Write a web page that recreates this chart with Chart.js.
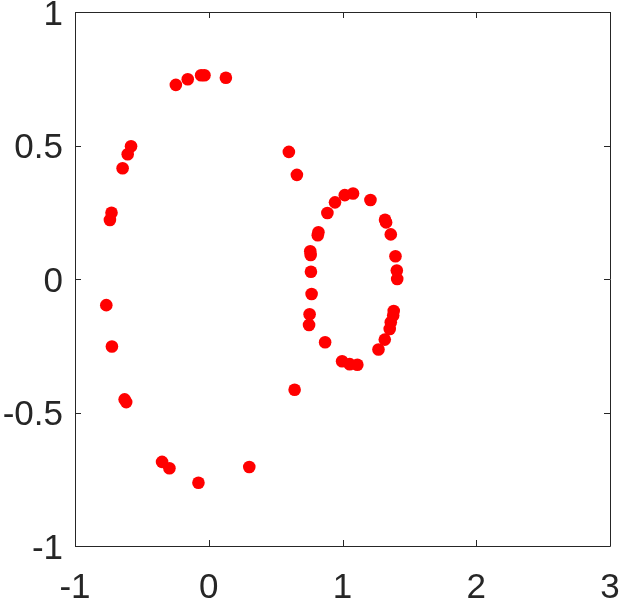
<!DOCTYPE html>
<html>
<head>
<meta charset="utf-8">
<script src="https://cdn.jsdelivr.net/npm/chart.js@4/dist/chart.umd.min.js"></script>
<style>
  html, body { margin: 0; padding: 0; background: #ffffff; }
  #wrap { width: 621px; height: 598px; position: relative; }
</style>
</head>
<body>
<div id="wrap"><canvas id="c" width="621" height="598"></canvas></div>
<script>
// Data
const xVals = [
  -0.246, -0.157, -0.057, -0.032, 0.128,
  -0.581, -0.606, -0.644, -0.727, -0.739,
  0.599, 0.659,
  -0.766, -0.724, -0.629, -0.617, -0.349, -0.294, -0.077, 0.303, 0.642,
  1.017, 1.079, 0.944, 1.209, 0.887, 1.318, 1.326, 1.361, 0.820, 0.815,
  0.759, 0.762, 0.764, 1.396, 1.406, 1.409, 0.769, 1.383, 1.379, 1.361,
  1.353, 1.316, 1.269, 0.754, 0.750, 0.870, 0.997, 1.054, 1.111
];
const yVals = [
  0.727, 0.748, 0.763, 0.763, 0.754,
  0.497, 0.467, 0.415, 0.248, 0.221,
  0.476, 0.390,
  -0.098, -0.253, -0.451, -0.461, -0.685, -0.709, -0.763, -0.704, -0.415,
  0.314, 0.320, 0.287, 0.296, 0.247, 0.222, 0.212, 0.167, 0.175, 0.164,
  0.104, 0.090, 0.027, 0.085, 0.032, 0.000, -0.056, -0.120, -0.137, -0.162,
  -0.187, -0.227, -0.264, -0.132, -0.172, -0.237, -0.308, -0.319, -0.321
];
const xTicks = [-1, 0, 1, 2, 3];
const yTicks = [-1, -0.5, 0, 0.5, 1];

const points = xVals.map((x, i) => ({ x: x, y: yVals[i] }));

const axisColor = '#262626';
const fontFamily = '"Liberation Sans", Arial, Helvetica, sans-serif';

const boxTicks = {
  id: 'boxTicks',
  afterDatasetsDraw(chart) {
    const { ctx, chartArea: a, scales } = chart;
    const len = 6;
    ctx.save();
    ctx.strokeStyle = axisColor;
    ctx.lineWidth = 1;
    ctx.beginPath();
    ctx.rect(Math.round(a.left) + 0.5, Math.round(a.top) + 0.5,
             Math.round(a.right) - Math.round(a.left), Math.round(a.bottom) - Math.round(a.top));
    xTicks.forEach(v => {
      const px = Math.round(scales.x.getPixelForValue(v)) + 0.5;
      ctx.moveTo(px, a.bottom); ctx.lineTo(px, a.bottom - len);
      ctx.moveTo(px, a.top); ctx.lineTo(px, a.top + len);
    });
    yTicks.forEach(v => {
      const py = Math.round(scales.y.getPixelForValue(v)) + 0.5;
      ctx.moveTo(a.left, py); ctx.lineTo(a.left + len, py);
      ctx.moveTo(a.right, py); ctx.lineTo(a.right - len, py);
    });
    ctx.stroke();
    ctx.restore();
  }
};

new Chart(document.getElementById('c'), {
  type: 'scatter',
  data: {
    datasets: [{
      data: points,
      backgroundColor: '#ff0000',
      borderColor: '#ff0000',
      borderWidth: 0,
      pointRadius: 6.3,
      pointHoverRadius: 6.3
    }]
  },
  options: {
    responsive: false,
    animation: false,
    events: [],
    layout: { padding: { top: 12, right: 11, left: 0, bottom: 0 } },
    plugins: { legend: { display: false }, tooltip: { enabled: false } },
    scales: {
      x: {
        type: 'linear',
        min: -1, max: 3,
        afterBuildTicks(scale) { scale.ticks = xTicks.map(v => ({ value: v })); },
        afterFit(scale) {
          scale.height = 52;
          scale.paddingLeft = 0; scale.paddingRight = 0;
        },
        grid: { display: false, drawTicks: false },
        border: { display: false },
        ticks: {
          color: axisColor,
          padding: 21,
          maxRotation: 0,
          autoSkip: false,
          font: { family: fontFamily, size: 35 },
          callback: v => String(v)
        }
      },
      y: {
        type: 'linear',
        min: -1, max: 1,
        afterBuildTicks(scale) { scale.ticks = yTicks.map(v => ({ value: v })); },
        afterFit(scale) {
          scale.width = 75;
          scale.paddingTop = 0; scale.paddingBottom = 0;
        },
        grid: { display: false, drawTicks: false },
        border: { display: false },
        ticks: {
          color: axisColor,
          padding: 12,
          labelOffset: 3,
          autoSkip: false,
          font: { family: fontFamily, size: 35 },
          callback: v => String(v)
        }
      }
    }
  },
  plugins: [boxTicks]
});
</script>
</body>
</html>
